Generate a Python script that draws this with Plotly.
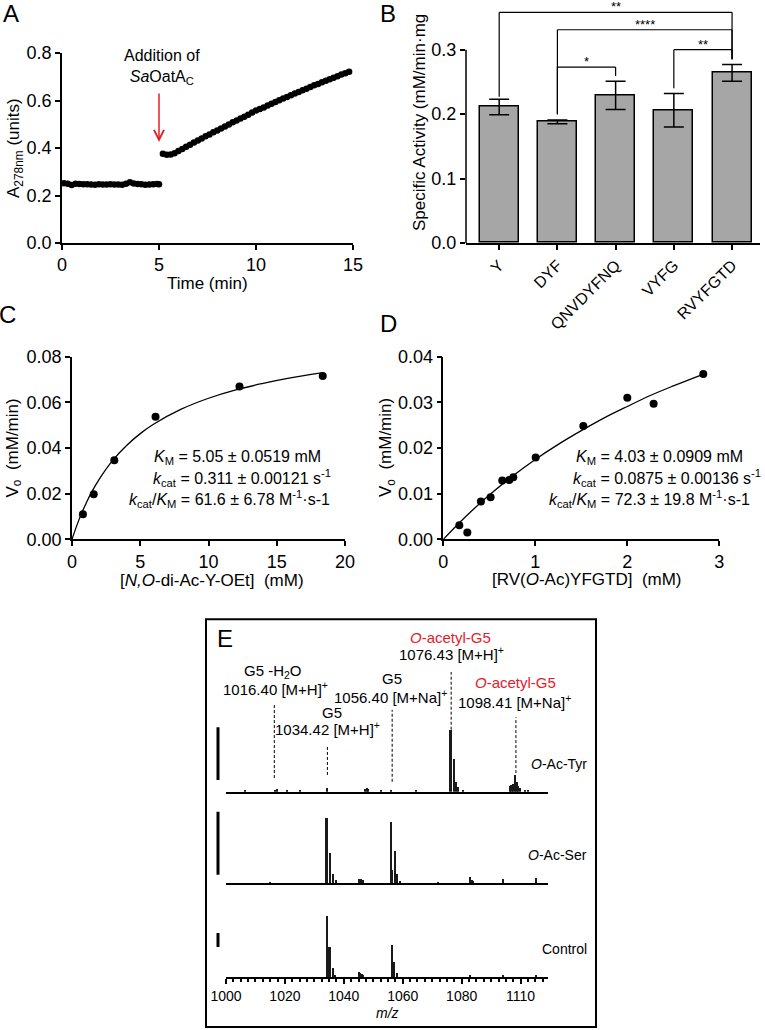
import plotly.graph_objects as go

W, H = 765, 1030
FONT = "Liberation Sans, Arial, sans-serif"


def px(x):
    return x / W


def py(y):
    return 1 - y / H


# --- A: absorbance at 278 nm over time
time_before = [0.1, 0.3, 0.5, 0.7, 0.9, 1.1, 1.3, 1.5, 1.7, 1.9, 2.1, 2.3, 2.5,
               2.7, 2.9, 3.1, 3.3, 3.5, 3.7, 3.9, 4.1, 4.3, 4.5, 4.7, 4.9, 5.0]
abs_before = [0.252, 0.249, 0.244, 0.249, 0.248, 0.247, 0.247, 0.246, 0.245, 0.247,
              0.246, 0.246, 0.247, 0.246, 0.246, 0.245, 0.249, 0.256, 0.251, 0.248,
              0.247, 0.245, 0.246, 0.247, 0.248, 0.247]
time_after = [5.2, 5.4, 5.6, 5.8, 6.0, 6.2, 6.4, 6.6, 6.8, 7.0, 7.2, 7.4, 7.6, 7.8,
              8.0, 8.2, 8.4, 8.6, 8.8, 9.0, 9.2, 9.4, 9.6, 9.8, 10.0, 10.2, 10.4,
              10.6, 10.8, 11.0, 11.2, 11.4, 11.6, 11.8, 12.0, 12.2, 12.4, 12.6,
              12.8, 13.0, 13.2, 13.4, 13.6, 13.8, 14.0, 14.2, 14.4, 14.6, 14.8]
abs_after = [0.376, 0.372, 0.373, 0.378, 0.387, 0.396, 0.405, 0.414, 0.423, 0.432,
             0.440, 0.449, 0.457, 0.466, 0.474, 0.482, 0.491, 0.499, 0.508, 0.516,
             0.524, 0.532, 0.540, 0.549, 0.558, 0.564, 0.571, 0.579, 0.586, 0.594,
             0.601, 0.608, 0.615, 0.622, 0.629, 0.636, 0.643, 0.650, 0.657, 0.664,
             0.670, 0.677, 0.683, 0.690, 0.696, 0.702, 0.709, 0.715, 0.721]

# --- B: specific activity per peptide
peptides = ["Y", "DYF", "QNVDYFNQ", "VYFG", "RVYFGTD"]
activity = [0.211, 0.188, 0.229, 0.206, 0.264]
activity_err = [0.012, 0.003, 0.022, 0.026, 0.013]
sig_left = ["Y", "DYF", "VYFG", "DYF"]
sig_right = ["RVYFGTD", "RVYFGTD", "RVYFGTD", "QNVDYFNQ"]
sig_height = [0.358, 0.331, 0.300, 0.273]
sig_left_foot = [0.227, 0.200, 0.240, 0.200]
sig_right_foot = [0.285, 0.285, 0.285, 0.259]
sig_label = ["**", "****", "**", "*"]

# --- C: N,O-di-Ac-Y-OEt kinetics
conc_c = [0.80, 1.59, 3.10, 6.12, 12.27, 18.37]
rate_c = [0.0110, 0.0197, 0.0346, 0.0537, 0.0669, 0.0715]
fit_conc_c = [0, 0.5, 1, 1.5, 2, 3, 4, 5, 6, 8, 10, 12, 14, 16, 18.4]
fit_rate_c = [0, 0.0084, 0.0154, 0.0213, 0.0264, 0.0347, 0.0411, 0.0463, 0.0505,
              0.0570, 0.0618, 0.0655, 0.0683, 0.0707, 0.0730]

# --- D: RV(O-Ac)YFGTD kinetics
conc_d = [0.174, 0.261, 0.409, 0.514, 0.641, 0.717, 0.761, 1.004, 1.522, 2.0, 2.286, 2.826]
rate_d = [0.0031, 0.0015, 0.0083, 0.0092, 0.0129, 0.0130, 0.0136, 0.0179, 0.0248,
          0.0310, 0.0297, 0.0362]
fit_conc_d = [0, 0.25, 0.5, 0.75, 1.0, 1.25, 1.5, 1.75, 2.0, 2.25, 2.5, 2.83]
fit_rate_d = [0, 0.0051, 0.0097, 0.0138, 0.0175, 0.0208, 0.0238, 0.0266, 0.0291,
              0.0315, 0.0336, 0.0362]

# --- E: mass spectra (relative intensity, % of tallest peak)
tyr_mz = [1006.4, 1016.6, 1017.4, 1020.8, 1025.1, 1034.5, 1047.4, 1047.8, 1048.2,
          1052.8, 1056.2, 1064.7, 1076.3, 1077.4, 1078.1, 1078.9, 1080.6, 1096.4,
          1097.0, 1097.5, 1098.1, 1098.7, 1099.2, 1100.0, 1101.5, 1102.6]
tyr_int = [3, 3, 4, 3, 3, 6, 5, 6, 5, 3, 3, 2, 100, 53, 16, 8, 3, 10, 11, 13, 27,
           15, 10, 6, 3, 2]
ser_mz = [1015.0, 1034.2, 1034.5, 1035.3, 1036.4, 1037.3, 1045.2, 1045.6, 1046.0,
          1046.4, 1056.2, 1056.5, 1057.4, 1058.2, 1059.0, 1072.0, 1083.0, 1083.4,
          1083.8, 1094.1, 1105.2]
ser_int = [1, 100, 25, 46, 15, 5, 6, 6, 6, 5, 95, 20, 49, 14, 4, 1, 9, 5, 3, 6, 8]
ctrl_mz = [1034.3, 1034.6, 1035.2, 1036.3, 1037.2, 1045.3, 1045.7, 1046.1, 1046.5,
           1056.3, 1056.6, 1057.2, 1058.2, 1083.0, 1094.1, 1105.2]
ctrl_int = [100, 30, 50, 15, 4, 8, 7, 6, 4, 52, 15, 25, 7.5, 3, 3, 3]
peak_mz = [1016.40, 1034.42, 1056.40, 1076.43, 1098.41]
peak_line_lo = [22, 27, 16, 100, 30]
peak_line_hi = [140, 74, 132, 193, 120]
scale_bar_lo = [19, 13, 49]
scale_bar_hi = [104, 110, 72]
mz_ticks = [1000, 1020, 1040, 1060, 1080, 1100]
mz_ticktext = ["1000", "1020", "1040", "1060", "1080", "1110"]

fig = go.Figure()

# A
for t, a in [(time_before, abs_before), (time_after, abs_after)]:
    fig.add_trace(go.Scatter(x=t, y=a, mode="markers", xaxis="x", yaxis="y",
                             marker=dict(color="black", size=6.5), cliponaxis=False))

# B
fig.add_trace(go.Bar(x=peptides, y=activity, xaxis="x2", yaxis="y2", width=0.67,
                     marker=dict(color="#a6a6a6", line=dict(color="black", width=1.5)),
                     error_y=dict(type="data", array=activity_err, color="black",
                                  thickness=1.5, width=10)))

# C, D
fig.add_trace(go.Scatter(x=fit_conc_c, y=fit_rate_c, mode="lines", xaxis="x3", yaxis="y3",
                         line=dict(color="black", width=1.3, shape="spline")))
fig.add_trace(go.Scatter(x=conc_c, y=rate_c, mode="markers", xaxis="x3", yaxis="y3",
                         marker=dict(color="black", size=8), cliponaxis=False))
fig.add_trace(go.Scatter(x=fit_conc_d, y=fit_rate_d, mode="lines", xaxis="x4", yaxis="y4",
                         line=dict(color="black", width=1.3, shape="spline")))
fig.add_trace(go.Scatter(x=conc_d, y=rate_d, mode="markers", xaxis="x4", yaxis="y4",
                         marker=dict(color="black", size=8), cliponaxis=False))

# E spectra
for mz, inten, ax in [(tyr_mz, tyr_int, "5"), (ser_mz, ser_int, "6"), (ctrl_mz, ctrl_int, "7")]:
    fig.add_trace(go.Bar(x=mz, y=inten, width=0.55, xaxis="x" + ax, yaxis="y" + ax,
                         marker=dict(color="#1a1a1a", line=dict(width=0))))

axis_style = dict(showline=True, linecolor="black", linewidth=1.5, ticks="outside",
                  ticklen=5, tickwidth=1.5, tickcolor="black", showgrid=False,
                  zeroline=False, automargin=False,
                  tickfont=dict(family=FONT, size=18, color="black"))

layout = dict(
    width=W, height=H, autosize=False, showlegend=False,
    margin=dict(l=0, r=0, t=0, b=0, autoexpand=False),
    paper_bgcolor="white", plot_bgcolor="white",
    font=dict(family=FONT, color="black"),
    xaxis=dict(axis_style, domain=[px(62), px(353)], range=[0, 15],
               tickvals=[0, 5, 10, 15], anchor="y"),
    yaxis=dict(axis_style, domain=[py(243), py(53)], range=[0, 0.8],
               tickvals=[0, 0.2, 0.4, 0.6, 0.8], tickformat=".1f", anchor="x"),
    xaxis2=dict(axis_style, domain=[px(466), px(760)], type="category",
                range=[-0.57, 4.48], tickangle=-45, anchor="y2",
                tickfont=dict(family=FONT, size=16, color="black")),
    yaxis2=dict(axis_style, domain=[py(243), py(4.6)], range=[0, 0.37], showline=False,
                tickvals=[0, 0.1, 0.2, 0.3], tickformat=".1f", anchor="x2"),
    xaxis3=dict(axis_style, domain=[px(72), px(345)], range=[0, 20],
                tickvals=[0, 5, 10, 15, 20], anchor="y3"),
    yaxis3=dict(axis_style, domain=[py(539.3), py(356.7)], range=[0, 0.08],
                tickvals=[0, 0.02, 0.04, 0.06, 0.08], tickformat=".2f", anchor="x3"),
    xaxis4=dict(axis_style, domain=[px(443.3), px(719.3)], range=[0, 3],
                tickvals=[0, 1, 2, 3], anchor="y4"),
    yaxis4=dict(axis_style, domain=[py(539.3), py(356.7)], range=[0, 0.04],
                tickvals=[0, 0.01, 0.02, 0.03, 0.04], tickformat=".2f", anchor="x4"),
    bargap=0,
)

# spectra axes: baseline px, top px, px per 100 %
spec_geom = {"5": (791.7, 650, 62), "6": (883.3, 800, 65), "7": (977.3, 905, 61.6)}
for ax, (base, top, full) in spec_geom.items():
    layout["xaxis" + ax] = dict(domain=[px(226), px(548)], range=[1000, 1109.3],
                                anchor="y" + ax, showline=True, linecolor="black",
                                linewidth=2, showgrid=False, zeroline=False,
                                automargin=False, showticklabels=False, ticks="")
    layout["yaxis" + ax] = dict(domain=[py(base), py(top)],
                                range=[0, (base - top) / full * 100], anchor="x" + ax,
                                showline=False, showgrid=False, zeroline=False,
                                automargin=False, showticklabels=False, ticks="")
layout["xaxis7"].update(ticks="outside", ticklen=5, tickwidth=1.5, tickcolor="black",
                        showticklabels=True, tickvals=mz_ticks, ticktext=mz_ticktext,
                        tickfont=dict(family=FONT, size=14, color="black"),
                        minor=dict(ticks="outside", tick0=1000, dtick=2.5, ticklen=3,
                                   tickwidth=1.5, tickcolor="black"))
fig.update_layout(layout)

shapes = []
# B y-axis line only up to 0.3
shapes.append(dict(type="line", xref="x2 domain", yref="y2", x0=0, x1=0, y0=0, y1=0.3,
                   line=dict(color="black", width=1.5)))
for l, r, h, fl, fr in zip(sig_left, sig_right, sig_height, sig_left_foot, sig_right_foot):
    for x0, y0, x1, y1 in [(l, fl, l, h), (l, h, r, h), (r, h, r, fr)]:
        shapes.append(dict(type="line", xref="x2", yref="y2", x0=x0, y0=y0, x1=x1, y1=y1,
                           line=dict(color="black", width=1.2)))
# E dashed peak markers
for mz, lo, hi in zip(peak_mz, peak_line_lo, peak_line_hi):
    shapes.append(dict(type="line", xref="x5", yref="y5", x0=mz, x1=mz, y0=lo, y1=hi,
                       line=dict(color="black", width=1, dash="3px,2px")))
# E intensity scale bars
for ax, lo, hi in zip(["5", "6", "7"], scale_bar_lo, scale_bar_hi):
    shapes.append(dict(type="line", xref="paper", yref="y" + ax, x0=px(218), x1=px(218),
                       y0=lo, y1=hi, line=dict(color="black", width=3)))
# E frame
shapes.append(dict(type="rect", xref="paper", yref="paper", x0=px(206), x1=px(596),
                   y0=py(1027), y1=py(619.3), line=dict(color="black", width=2)))
fig.update_layout(shapes=shapes)


def label(x, y, text, size=17, xanchor="center", color="black", angle=0):
    return dict(xref="paper", yref="paper", x=px(x), y=py(y), text=text,
                showarrow=False, xanchor=xanchor, yanchor="middle", textangle=angle,
                font=dict(family=FONT, size=size, color=color))


RED = "#e3202a"
ann = [
    label(11, 14, "A", 24), label(388, 13, "B", 24), label(8, 314, "C", 24),
    label(388, 323, "D", 24), label(225, 638, "E", 24),
    # axis titles
    label(15, 148, "A<sub>278nm</sub> (units)", angle=-90),
    label(208, 283, "Time (min)"),
    label(420, 123, "Specific Activity (mM/min·mg", angle=-90),
    label(13.5, 448, "V<sub>o</sub>  (mM/min)", angle=-90),
    label(212, 580, "[<i>N,O</i>-di-Ac-Y-OEt]  (mM)"),
    label(387, 448, "V<sub>o</sub>  (mM/min)", angle=-90),
    label(587, 579, "[RV(<i>O</i>-Ac)YFGTD]  (mM)"),
    label(387, 1013, "<i>m/z</i>", 14),
    # A note
    label(162, 67, "Addition of<br><i>Sa</i>OatA<sub>C</sub>", 16),
    # kinetics constants
    label(323, 457, "<i>K</i><sub>M</sub> = 5.05 ± 0.0519 mM", 16, "right"),
    label(333, 478, "<i>k</i><sub>cat</sub> = 0.311 ± 0.00121 s<sup>-1</sup>", 16, "right"),
    label(332, 499, "<i>k</i><sub>cat</sub>/<i>K</i><sub>M</sub> = 61.6 ± 6.78 M<sup>-1</sup>·s-1", 16, "right"),
    label(745, 457, "<i>K</i><sub>M</sub> = 4.03 ± 0.0909 mM", 16, "right"),
    label(763, 478, "<i>k</i><sub>cat</sub> = 0.0875 ± 0.00136 s<sup>-1</sup>", 16, "right"),
    label(752, 499, "<i>k</i><sub>cat</sub>/<i>K</i><sub>M</sub> = 72.3 ± 19.8 M<sup>-1</sup>·s-1", 16, "right"),
    # E peak labels
    label(273, 671, "G5 -H<sub>2</sub>O", 15),
    label(275, 688, "1016.40 [M+H]<sup>+</sup>", 15),
    label(331.7, 712, "G5", 15),
    label(327, 728, "1034.42 [M+H]<sup>+</sup>", 15),
    label(391.7, 678, "G5", 15),
    label(391, 696, "1056.40 [M+Na]<sup>+</sup>", 15),
    label(450, 637, "<i>O</i>-acetyl-G5", 15, color=RED),
    label(451, 653, "1076.43 [M+H]<sup>+</sup>", 15),
    label(515, 682, "<i>O</i>-acetyl-G5", 15, color=RED),
    label(514.5, 701, "1098.41 [M+Na]<sup>+</sup>", 15),
    label(589, 764, "<i>O</i>-Ac-Tyr", 14, "right"),
    label(589, 855, "<i>O</i>-Ac-Ser", 14, "right"),
    label(589, 949, "Control", 14, "right"),
]
# red arrow in A
ann.append(dict(xref="x", yref="y", axref="x", ayref="y", x=5, y=0.425, ax=5, ay=0.636,
                text="", showarrow=True, arrowhead=5, arrowsize=1.3, arrowwidth=1.5,
                arrowcolor=RED))
# significance stars
for l, r, h, s in zip(sig_left, sig_right, sig_height, sig_label):
    xm = (peptides.index(l) + peptides.index(r)) / 2
    ann.append(dict(xref="x2", yref="y2", x=xm, y=h, text=s, showarrow=False,
                    yanchor="bottom", yshift=-4, font=dict(family=FONT, size=13, color="black")))
fig.update_layout(annotations=ann)

fig.write_html("out.html", config={"displayModeBar": False},
               post_script="document.body.style.margin='0';")
